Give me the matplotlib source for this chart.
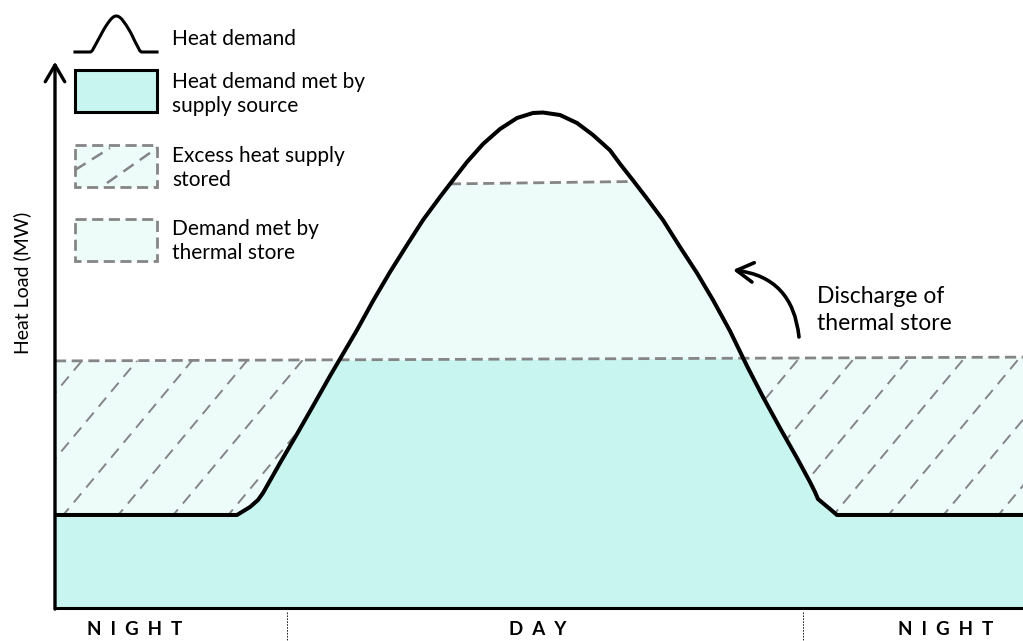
import numpy as np
import matplotlib.pyplot as plt
from matplotlib.patches import Rectangle

plt.rcParams['font.family'] = ['Lato', 'DejaVu Sans']

# heat demand over one day (hours, MW)
hours = [0.000, 4.339, 4.512, 4.835, 5.033, 5.157, 5.579, 6.000, 6.397, 6.818,
         7.066, 7.488, 7.884, 8.306, 8.727, 9.124, 9.545, 9.868, 10.215,
         10.612, 11.033, 11.455, 11.851, 12.099, 12.521, 12.942, 13.339,
         13.760, 14.008, 14.331, 14.678, 15.074, 15.496, 15.917, 16.314,
         16.736, 17.157, 17.554, 17.975, 18.397, 18.719, 18.843, 18.917,
         19.215, 19.388, 24.000]
demand = [17.13, 17.13, 17.13, 18.60, 19.89, 21.18, 26.70, 32.04, 37.20, 42.73,
          45.86, 51.20, 56.54, 61.88, 66.85, 71.45, 75.69, 78.82, 82.14,
          85.45, 88.21, 90.24, 91.16, 91.25, 90.79, 89.32, 87.11,
          84.30, 81.80, 78.75, 75.40, 71.45, 66.48, 61.69, 56.72,
          51.01, 44.57, 38.86, 33.15, 27.62, 23.20, 21.36, 20.07,
          18.23, 17.13, 17.13]

# constant supply level and the top of the store discharge
supply_hours = [0.0, 24.0]
supply_mw = [45.5, 46.2]
store_hours = [9.79, 14.36]
store_mw = [78.1, 78.55]

periods = ["NIGHT", "DAY", "NIGHT"]
period_edges = [5.75, 18.55]
period_label_hours = [1.98, 11.98, 22.07]

legend_labels = ["Heat demand", "Heat demand met by\nsupply source",
                 "Excess heat supply\nstored", "Demand met by\nthermal store"]

main_fill = '#c8f5f0'
pale_fill = '#edfbf9'
dash_grey = '#858585'

fig = plt.figure(figsize=(10.23, 6.41), dpi=100)
ax = fig.add_axes([55 / 1023, 33 / 641, 968 / 1023, 543 / 641])
ax.set_xlim(0, 24)
ax.set_ylim(0, 100)

tt = np.linspace(0, 24, 2401)
dd = np.interp(tt, hours, demand)
ss = np.interp(tt, supply_hours, supply_mw)
top = np.interp(tt, store_hours, store_mw, left=np.nan, right=np.nan)
top = np.where(np.isnan(top), dd, np.minimum(dd, top))

# demand met directly by supply
ax.fill_between(tt, 0, np.minimum(dd, ss), color=main_fill, lw=0, zorder=1)
# excess supply going into the store
excess = ax.fill_between(tt, dd, ss, where=dd < ss, color=pale_fill, lw=0,
                         zorder=1, interpolate=True)
# demand met by the store
ax.fill_between(tt, ss, top, where=dd > ss, color=pale_fill, lw=0, zorder=1,
                interpolate=True)

# dashed hatch inside the excess regions
slope = 8.9
for c in np.arange(-1.72 - 1.364 * 10, 24, 1.364):
    for p in excess.get_paths():
        hl, = ax.plot([c, c + 100 / slope], [0, 100], color=dash_grey, lw=1.4,
                      dashes=(6, 4), zorder=2)
        hl.set_clip_path(p, ax.transData)

ax.plot(supply_hours, supply_mw, color=dash_grey, lw=2, dashes=(4, 2), zorder=3)
ax.plot(store_hours, store_mw, color=dash_grey, lw=2, dashes=(4, 2), zorder=3)
ax.plot(hours, demand, color='black', lw=2.9, zorder=4, solid_joinstyle='round')

for s in ax.spines.values():
    s.set_visible(False)
ax.set_xticks([])
ax.set_yticks([])
ax.plot([0, 1], [0, 0], transform=ax.transAxes, color='black', lw=2.2,
        clip_on=False, zorder=5)
ax.annotate('', xy=(0, 1.006), xytext=(0, -0.002), xycoords='axes fraction',
            arrowprops=dict(arrowstyle='->,head_length=0.6,head_width=0.35',
                            lw=2.4, color='black', mutation_scale=20,
                            shrinkA=0, shrinkB=0))

trans = ax.get_xaxis_transform()
for e in period_edges:
    ax.plot([e, e], [-0.008, -0.07], transform=trans, color='black', lw=0.6,
            dashes=(2, 1.5), clip_on=False)
for name, h in zip(periods, period_label_hours):
    ax.text(h, -0.04, "  ".join(name), transform=trans, ha='center',
            va='center', fontsize=13.5, fontweight='bold')

fig.text(22 / 1023, 1 - 283 / 641, "Heat Load (MW)", rotation=90,
         ha='center', va='center', fontsize=14)

# legend drawn in pixel space on top
lg = fig.add_axes([0, 0, 1, 1], zorder=6)
lg.set_xlim(0, 1023)
lg.set_ylim(641, 0)
lg.axis('off')
lg.patch.set_alpha(0)

gx = 75 + np.array(hours) / 24 * 82
gy = 52 - (np.array(demand) - min(demand)) / (max(demand) - min(demand)) * 36
lg.plot(gx, gy, color='black', lw=2.2)
lg.add_patch(Rectangle((75, 70), 82, 42, fc=main_fill, ec='black', lw=2.2))
for y0 in (145, 219):
    lg.add_patch(Rectangle((75, y0), 82, 42, fc=pale_fill, ec=dash_grey,
                           lw=2, ls=(0, (4, 2))))
lg.plot([75, 110], [170, 148], color=dash_grey, lw=1.8, dashes=(5, 3))
lg.plot([107, 157], [183, 148], color=dash_grey, lw=1.8, dashes=(5, 3))

for label, yc in zip(legend_labels, [39, 94, 168, 241]):
    lg.text(172, yc, label, ha='left', va='center', fontsize=15,
            linespacing=1.25)

lg.text(817, 310, "Discharge of\nthermal store", ha='left', va='center',
        fontsize=16.5, linespacing=1.3)
lg.annotate('', xy=(733, 270), xytext=(799, 337),
            arrowprops=dict(arrowstyle='->,head_length=0.6,head_width=0.35',
                            lw=2.6, color='black', mutation_scale=20,
                            connectionstyle='arc3,rad=0.4',
                            shrinkA=0, shrinkB=0))

fig.savefig('out.png', dpi=100)
